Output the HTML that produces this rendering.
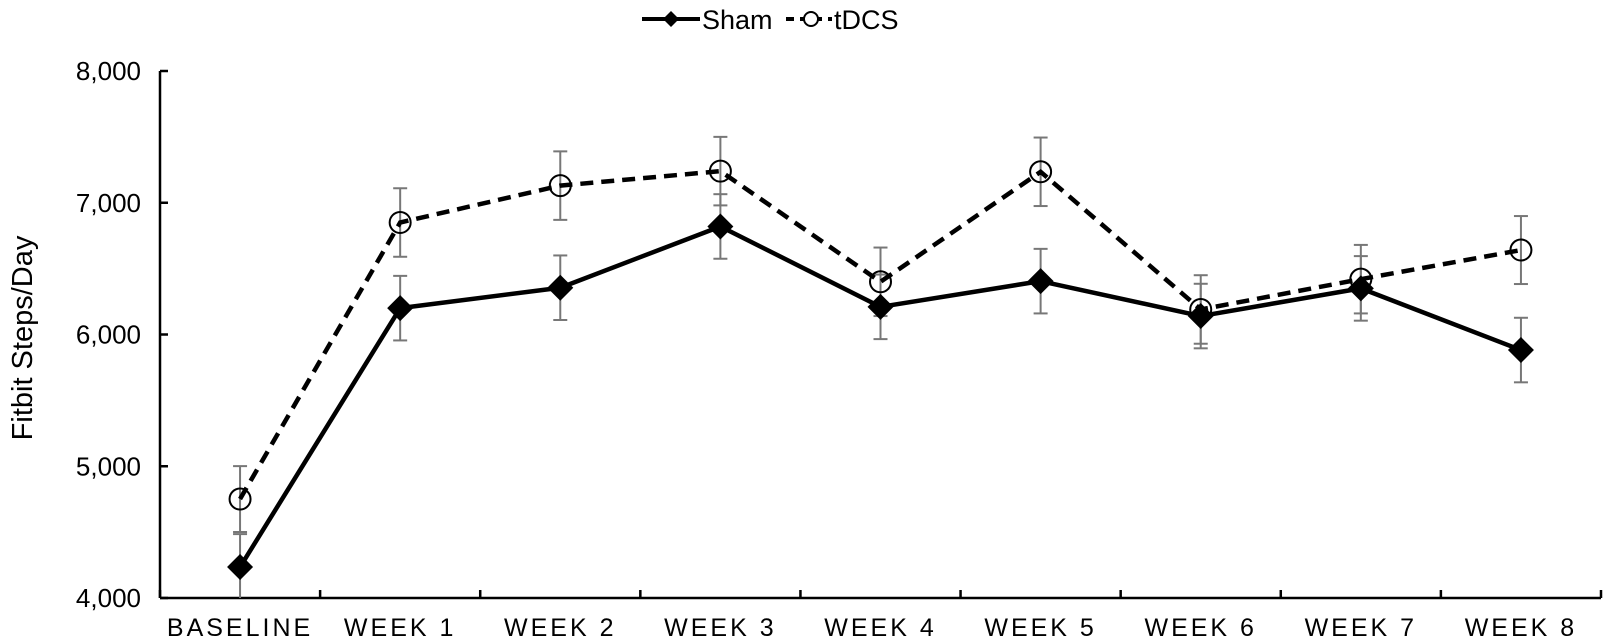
<!DOCTYPE html>
<html><head><meta charset="utf-8"><style>
html,body{margin:0;padding:0;background:#fff;}
svg{display:block;font-family:"Liberation Sans",Arial,sans-serif;}
</style></head><body>
<svg id="chart" width="1606" height="640" viewBox="0 0 1606 640">
<g>
 <g>
  <line x1="642" y1="19" x2="700" y2="19" stroke="#000" stroke-width="4"/>
  <path d="M671,11 L679,19 L671,27 L663,19 Z" fill="#000"/>
  <text x="702" y="29" font-size="27">Sham</text>
 </g>
 <g>
  <line x1="786" y1="19" x2="832" y2="19" stroke="#000" stroke-width="4" stroke-dasharray="8,6"/>
  <circle cx="811" cy="19" r="7" fill="#fff" stroke="#000" stroke-width="2"/>
  <text x="834" y="29" font-size="27">tDCS</text>
 </g>
</g>
<text transform="translate(32,338) rotate(-90)" text-anchor="middle" font-size="29">Fitbit Steps/Day</text>
<g id="axes"></g>
<g id="marks"></g>
</svg>
<script>
const categories = ["BASELINE","WEEK 1","WEEK 2","WEEK 3","WEEK 4","WEEK 5","WEEK 6","WEEK 7","WEEK 8"];
const shamValues = [4235,6200,6355,6820,6210,6405,6140,6350,5882];
const shamErrors = [250,245,245,245,245,245,245,245,245];
const tdcsValues = [4751,6850,7130,7240,6400,7235,6190,6420,6641];
const tdcsErrors = [250,260,260,260,260,260,260,260,258];
const yTicks = [4000,5000,6000,7000,8000];
const yTickLabels = ["4,000","5,000","6,000","7,000","8,000"];

const NS = "http://www.w3.org/2000/svg";
const X0 = 160, X1 = 1601, Y0 = 598, Y1 = 71, YMIN = 4000, YMAX = 8000;
const band = (X1 - X0) / categories.length;
function xs(i){ return X0 + band * (i + 0.5); }
function ys(v){ return Y0 - (v - YMIN) / (YMAX - YMIN) * (Y0 - Y1); }
function mk(tag, attrs, parent){
  const e = document.createElementNS(NS, tag);
  for (const k in attrs) e.setAttribute(k, attrs[k]);
  parent.appendChild(e); return e;
}
const axes = document.getElementById('axes');
const marks = document.getElementById('marks');

const ya = mk('line',{x1:X0,y1:Y1,x2:X0,y2:Y0,stroke:'#000','stroke-width':2.5},axes);


const xa = mk('line',{x1:X0,y1:Y0,x2:X1,y2:Y0,stroke:'#000','stroke-width':2.5},axes);



yTicks.forEach((t,i)=>{
  mk('line',{x1:X0,y1:ys(t),x2:X0+8,y2:ys(t),stroke:'#000','stroke-width':2.5},axes);
  const tx = mk('text',{x:141,y:ys(t)+9,'text-anchor':'end','font-size':26},axes);
  tx.textContent = yTickLabels[i];
  
  
});
for (let i=0;i<=categories.length;i++){
  const x = X0 + band*i;
  mk('line',{x1:x,y1:Y0,x2:x,y2:Y0-8,stroke:'#000','stroke-width':2.5},axes);
}
categories.forEach((c,i)=>{
  const tx = mk('text',{x:xs(i),y:636,'text-anchor':'middle','font-size':25,'letter-spacing':'3'},axes);
  tx.textContent = c;
  
  
});

function errBars(vals, errs, name){
  vals.forEach((v,i)=>{
    const x = xs(i);
    const top = ys(v+errs[i]), bot = Math.min(Y0, ys(v-errs[i]));
    const g = mk('g',{stroke:'#777','stroke-width':2},marks);
    
    
    mk('line',{x1:x,y1:top,x2:x,y2:bot},g);
    mk('line',{x1:x-7,y1:top,x2:x+7,y2:top},g);
    if (ys(v-errs[i]) <= Y0) mk('line',{x1:x-7,y1:bot,x2:x+7,y2:bot},g);
  });
}
errBars(tdcsValues, tdcsErrors, 'tdcs');
errBars(shamValues, shamErrors, 'sham');

const shamLine = mk('polyline',{points:shamValues.map((v,i)=>xs(i)+','+ys(v)).join(' '),fill:'none',stroke:'#000','stroke-width':4.5,'stroke-linejoin':'round'},marks);


const tdcsLine = mk('polyline',{points:tdcsValues.map((v,i)=>xs(i)+','+ys(v)).join(' '),fill:'none',stroke:'#000','stroke-width':4.5,'stroke-dasharray':'13,8'},marks);



shamValues.forEach((v,i)=>{
  const x = xs(i), y = ys(v);
  const p = mk('path',{d:`M${x},${y-13} L${x+13},${y} L${x},${y+13} L${x-13},${y} Z`,fill:'#000'},marks);
  
  
});
tdcsValues.forEach((v,i)=>{
  const c = mk('circle',{cx:xs(i),cy:ys(v),r:10.5,fill:'none',stroke:'#000','stroke-width':2},marks);
  
  
});
</script>
</body></html>
